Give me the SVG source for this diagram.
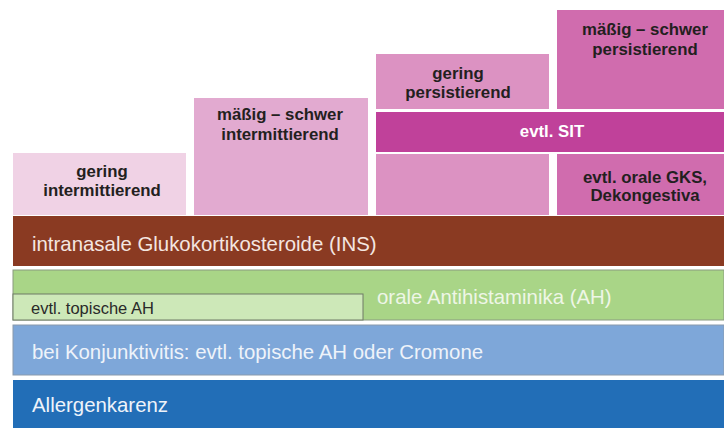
<svg xmlns="http://www.w3.org/2000/svg" width="724" height="428" viewBox="0 0 724 428">
<style>
.t{font-family:"Liberation Sans",Arial,sans-serif;}
.h{font-family:"Liberation Sans",Arial,sans-serif;font-weight:bold;font-size:16.8px;fill:#231f20;text-anchor:middle;}
.b{font-family:"Liberation Sans",Arial,sans-serif;font-size:20.4px;}
</style>
<rect width="724" height="428" fill="#ffffff"/>
<g id="gering-intermittierend">
<rect x="13" y="153" width="173" height="62" fill="#f0d2e5"/>
<text class="h" x="102" y="177">gering</text>
<text class="h" x="102" y="196">intermittierend</text>
</g>
<g id="maessig-intermittierend">
<rect x="194" y="98" width="174" height="117" fill="#e2aad0"/>
<text class="h" x="280" y="120">mäßig – schwer</text>
<text class="h" x="280" y="140">intermittierend</text>
</g>
<g id="gering-persistierend">
<rect x="376" y="54" width="173" height="55" fill="#dc92c2"/>
<text class="h" x="458" y="79">gering</text>
<text class="h" x="458" y="98">persistierend</text>
</g>
<g id="maessig-persistierend">
<rect x="557" y="10" width="167" height="99" fill="#d06cae"/>
<text class="h" x="645" y="35">mäßig – schwer</text>
<text class="h" x="645" y="55">persistierend</text>
</g>
<g id="sit">
<rect x="376" y="112" width="348" height="40" fill="#c0419a"/>
<text class="h" x="552" y="137" style="fill:#ffffff">evtl. SIT</text>
</g>
<g id="gering-persistierend-unten">
<rect x="376" y="154" width="173" height="61" fill="#dc92c2"/>
</g>
<g id="gks">
<rect x="557" y="154" width="167" height="61" fill="#d06cae"/>
<text class="h" x="645" y="183">evtl. orale GKS,</text>
<text class="h" x="645" y="201">Dekongestiva</text>
</g>
<g id="ins">
<rect x="13" y="216" width="711" height="50" fill="#8a3a22"/>
<text class="b" x="32" y="251" fill="#f4e6e0">intranasale Glukokortikosteroide (INS)</text>
</g>
<g id="ah">
<rect x="13" y="270" width="711" height="50" fill="#a9d587" stroke="#8a9a80" stroke-width="1"/>
<text class="b" x="377" y="304" fill="#eef6e6">orale Antihistaminika (AH)</text>
</g>
<g id="topische-ah">
<rect x="13" y="294" width="350" height="26" fill="#cde8b8" stroke="#6e7a66" stroke-width="1"/>
<text class="t" x="31" y="314" font-size="16.5" fill="#2a2a2a">evtl. topische AH</text>
</g>
<g id="konjunktivitis">
<rect x="13" y="325" width="711" height="50" fill="#7ea7d9" stroke="#8a9aac" stroke-width="1"/>
<text class="b" x="32" y="359" fill="#eef3fa">bei Konjunktivitis: evtl. topische AH oder Cromone</text>
</g>
<g id="allergenkarenz">
<rect x="13" y="380" width="711" height="48" fill="#226eb7"/>
<text class="b" x="32" y="412" fill="#eef3fa">Allergenkarenz</text>
</g>
<g id="connectors"></g>
</svg>
